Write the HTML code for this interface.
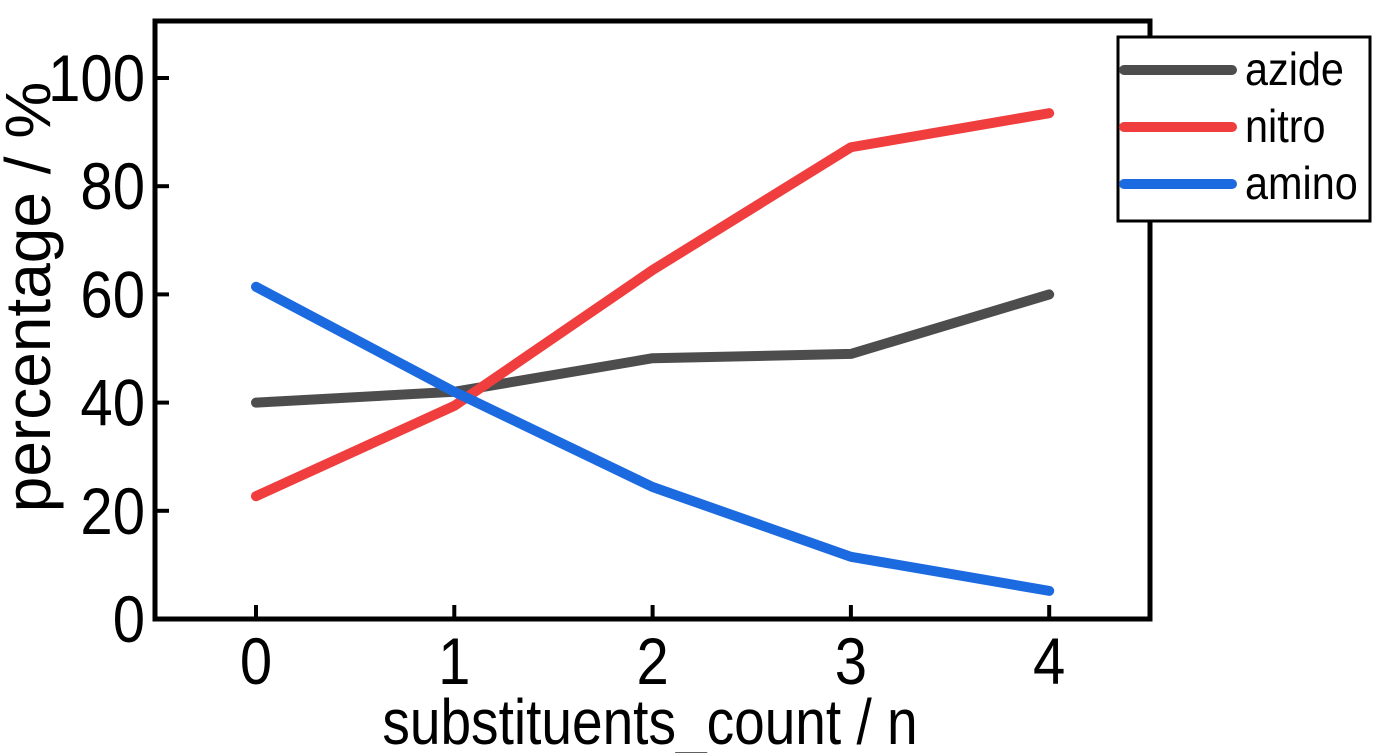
<!DOCTYPE html>
<html><head><meta charset="utf-8"><style>body{margin:0;background:#fff}svg{display:block}text{font-family:"Liberation Sans",sans-serif}</style></head>
<body>
<svg id="chart" width="1378" height="753" xmlns="http://www.w3.org/2000/svg">
<rect x="155" y="21" width="995" height="598" fill="none" stroke="#000" stroke-width="5"/>
<g id="ticks"></g>
<g id="series"></g>
<g>
<rect x="1118" y="37" width="252" height="184" fill="#fff" stroke="#000" stroke-width="3"/>
<line x1="1124" y1="70" x2="1232" y2="70" stroke="#4d4d4d" stroke-width="10" stroke-linecap="round"/>
<line x1="1124" y1="127" x2="1232" y2="127" stroke="#f03e3e" stroke-width="10" stroke-linecap="round"/>
<line x1="1124" y1="184" x2="1232" y2="184" stroke="#1c6ae0" stroke-width="10" stroke-linecap="round"/>
<text transform="translate(1245,85) scale(0.9,1)" font-size="46">azide</text>
<text transform="translate(1245,142) scale(0.9,1)" font-size="46">nitro</text>
<text transform="translate(1245,199) scale(0.9,1)" font-size="46">amino</text>
</g>
<text transform="translate(650,744) scale(0.86,1)" font-size="64" text-anchor="middle">substituents_count / n</text>
<text transform="translate(50,297) rotate(-90) scale(1.0,1)" font-size="64" text-anchor="middle">percentage / %</text>
</svg>
<script>
const categories=[0,1,2,3,4];
const azide=[40,42,48.2,49,60];
const nitro=[22.7,39.4,64.5,87.2,93.5];
const amino=[61.4,42,24.4,11.5,5.2];
const yTicks=[0,20,40,60,80,100];
const NS="http://www.w3.org/2000/svg";
const xS=v=>256+v*198.3;
const yS=v=>619-v*5.41;
const tg=document.getElementById('ticks'),sg=document.getElementById('series');
function mk(t,a,p){const e=document.createElementNS(NS,t);for(const k in a)e.setAttribute(k,a[k]);p.appendChild(e);return e;}
categories.forEach(c=>{
 const l=mk('line',{x1:xS(c),x2:xS(c),y1:619,y2:605,stroke:'#000','stroke-width':4},tg);
 
 
 const t=mk('text',{transform:`translate(${xS(c)},684) scale(0.88,1)`,'font-size':66,'text-anchor':'middle'},tg);
 t.textContent=c;
 
 
});
yTicks.forEach(v=>{
 const l=mk('line',{x1:155,x2:169,y1:yS(v),y2:yS(v),stroke:'#000','stroke-width':4},tg);
 
 
 const t=mk('text',{transform:`translate(145,${yS(v)+23}) scale(0.88,1)`,'font-size':66,'text-anchor':'end'},tg);
 t.textContent=v;
 
 
});
[[azide,'#4d4d4d','azide'],[nitro,'#f03e3e','nitro'],[amino,'#1c6ae0','amino']].forEach(([d,c,n])=>{
 const p=mk('polyline',{points:d.map((v,i)=>xS(categories[i])+','+yS(v)).join(' '),fill:'none',stroke:c,'stroke-width':10,'stroke-linecap':'round','stroke-linejoin':'round'},sg);
 
 
});
</script>
</body></html>
